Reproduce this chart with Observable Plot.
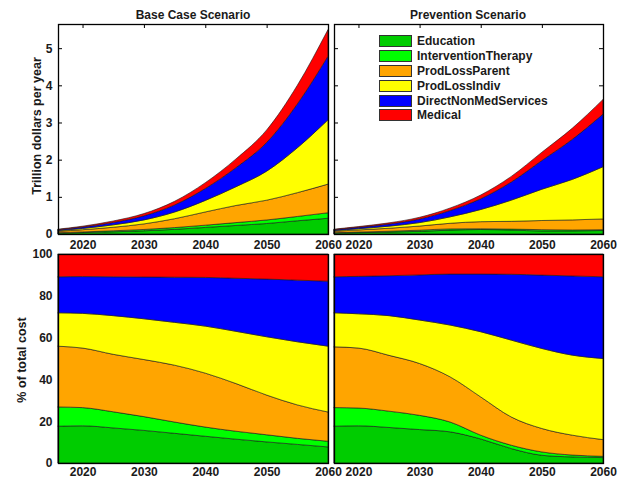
<!DOCTYPE html>
<html><head><meta charset="utf-8">
<script src="https://cdn.jsdelivr.net/npm/d3@7"></script>
<script src="https://cdn.jsdelivr.net/npm/@observablehq/plot@0.6"></script>
<style>
body{margin:0;background:#fff;}
#root{position:relative;width:626px;height:480px;font-family:"Liberation Sans",Arial,Helvetica,sans-serif;font-weight:bold;color:#1a1a1a;}
.pan{position:absolute;}
.pan svg{overflow:visible;}
.title{position:absolute;font-size:12px;transform:translate(-50%,-50%);white-space:nowrap;}
.ylab{position:absolute;font-size:12.5px;white-space:nowrap;transform:translate(-50%,-50%) rotate(-90deg);}
#legend{position:absolute;left:379px;top:34px;}
.row{display:flex;align-items:center;height:14.8px;}
.sw{width:31px;height:10px;border:1px solid #333;margin-right:5px;}
.row span{font-size:12px;}
</style></head><body><div id="root"></div>
<script>
// ---- data (trillion dollars per year) ----
const years = [2016, 2020, 2025, 2030, 2035, 2040, 2045, 2050, 2055, 2060];
const seriesNames = ["Education","InterventionTherapy","ProdLossParent","ProdLossIndiv","DirectNonMedServices","Medical"];
const seriesColors = ["#00cc00","#00ff00","#ffa500","#ffff00","#0000ff","#ff0000"];
const xTicks = [2020, 2030, 2040, 2050, 2060];
const yTicksTop = [0, 1, 2, 3, 4, 5];
const yTicksPct = [0, 20, 40, 60, 80, 100];
const panelTitles = ["Base Case Scenario", "Prevention Scenario"];
const yLabelTop = "Trillion dollars per year";
const yLabelBottom = "% of total cost";

const baseEducation   = [0.0229, 0.0374, 0.0588, 0.0858, 0.1250, 0.1766, 0.2303, 0.2828, 0.356, 0.4235];
const baseIntervention= [0.0120, 0.0183, 0.0270, 0.0363, 0.0475, 0.0607, 0.0768, 0.0952, 0.116, 0.1485];
const baseProdParent  = [0.0378, 0.0599, 0.0963, 0.1502, 0.2394, 0.3560, 0.4606, 0.5320, 0.640, 0.770];
const baseProdIndiv   = [0.0208, 0.0349, 0.0648, 0.1073, 0.1804, 0.3105, 0.5050, 0.7812, 1.208, 1.7325];
const baseDirectNonMed= [0.0224, 0.0370, 0.0651, 0.1100, 0.1901, 0.3215, 0.5131, 0.7728, 1.180, 1.7105];
const baseMedical     = [0.0142, 0.0227, 0.0382, 0.0605, 0.0977, 0.1546, 0.2343, 0.3360, 0.500, 0.715];

const prevEducation   = [0.0229, 0.0356, 0.0510, 0.0720, 0.1043, 0.1208, 0.1070, 0.0814, 0.0827, 0.0941];
const prevIntervention= [0.0116, 0.0170, 0.0234, 0.0306, 0.0329, 0.0189, 0.0248, 0.0352, 0.0257, 0.0217];
const prevProdParent  = [0.0378, 0.0574, 0.0801, 0.1116, 0.1512, 0.1922, 0.2093, 0.2464, 0.2708, 0.2896];
const prevProdIndiv   = [0.0212, 0.0328, 0.0570, 0.0936, 0.1736, 0.3276, 0.5704, 0.8426, 1.0916, 1.4046];
const prevDirectNonMed= [0.0224, 0.0358, 0.0573, 0.0972, 0.1708, 0.2898, 0.4883, 0.7722, 1.0802, 1.4154];
const prevMedical     = [0.0142, 0.0214, 0.0312, 0.0450, 0.0672, 0.1008, 0.1504, 0.2222, 0.2993, 0.3946];

function toRows(arrays) {
  const rows = [];
  arrays.forEach((arr, i) => arr.forEach((v, j) => rows.push({year: years[j], series: seriesNames[i], value: v})));
  return rows;
}
const baseData = toRows([baseEducation, baseIntervention, baseProdParent, baseProdIndiv, baseDirectNonMed, baseMedical]);
const prevData = toRows([prevEducation, prevIntervention, prevProdParent, prevProdIndiv, prevDirectNonMed, prevMedical]);

const root = document.getElementById("root");

function panel(data, o) {
  const fh = o.height - o.mT - o.mB, fw = o.width - o.mL - o.mR;
  const yTicks = o.normalize ? yTicksPct.map(d => d / 100) : yTicksTop;
  const marks = [
    Plot.tickX(xTicks, {x: d => d, insetBottom: fh - 4, stroke: "#000"}),
    Plot.tickX(xTicks, {x: d => d, insetTop: fh - 4, stroke: "#000"}),
    Plot.tickY(yTicks, {y: d => d, insetRight: fw - 4, stroke: "#000"}),
    Plot.tickY(yTicks, {y: d => d, insetLeft: fw - 4, stroke: "#000"}),
    Plot.areaY(data, Plot.stackY({
      x: "year", y: "value", z: "series", fill: "series", order: seriesNames,
      offset: o.normalize ? "normalize" : null, curve: "monotone-x",
      stroke: "#1a1a1a", strokeWidth: 0.6
    })),
    Plot.frame({stroke: "#000", strokeWidth: 1.3}),
    Plot.axisX(xTicks, {tickSize: 0, tickPadding: o.xPad, tickFormat: d => String(d), fill: "#1a1a1a"})
  ];
  if (o.showY) marks.push(Plot.axisY(yTicks, {tickSize: 0, tickPadding: 6, fill: "#1a1a1a",
    tickFormat: o.normalize ? d => String(Math.round(d * 100)) : d => String(d)}));
  const chart = Plot.plot({
    width: o.width, height: o.height,
    marginLeft: o.mL, marginRight: o.mR, marginTop: o.mT, marginBottom: o.mB,
    x: {domain: [2016, 2060], label: null},
    y: {domain: o.normalize ? [0, 1] : [0, 5.65], label: null, axis: o.showY ? undefined : null},
    color: {domain: seriesNames, range: seriesColors},
    style: {fontFamily: '"Liberation Sans", Arial, sans-serif', fontWeight: "bold", fontSize: "12px", background: "transparent", overflow: "visible"},
    marks
  });
  const div = document.createElement("div");
  div.className = "pan";
  div.style.left = o.left + "px";
  div.style.top = o.top + "px";
  div.appendChild(chart);
  root.appendChild(div);
}

panel(baseData, {left: 0, top: 0, width: 335, height: 256, mL: 58, mR: 7, mT: 24, mB: 22, normalize: false, showY: true, xPad: 6});
panel(prevData, {left: 300, top: 0, width: 326, height: 256, mL: 34, mR: 23, mT: 24, mB: 22, normalize: false, showY: false, xPad: 6});
panel(baseData, {left: 0, top: 230, width: 335, height: 250, mL: 58, mR: 7, mT: 24, mB: 17, normalize: true, showY: true, xPad: 4});
panel(prevData, {left: 300, top: 230, width: 326, height: 250, mL: 34, mR: 23, mT: 24, mB: 17, normalize: true, showY: false, xPad: 4});

function addText(cls, text, x, y) {
  const d = document.createElement("div");
  d.className = cls; d.textContent = text;
  d.style.left = x + "px"; d.style.top = y + "px";
  root.appendChild(d);
}
addText("title", panelTitles[0], 193, 15);
addText("title", panelTitles[1], 468, 15);
addText("ylab", yLabelTop, 37, 126);
addText("ylab", yLabelBottom, 22, 360);

const legend = document.createElement("div");
legend.id = "legend";
seriesNames.forEach((name, i) => {
  const row = document.createElement("div");
  row.className = "row";
  const sw = document.createElement("div");
  sw.className = "sw"; sw.style.background = seriesColors[i];
  const t = document.createElement("span"); t.textContent = name;
  row.appendChild(sw); row.appendChild(t);
  legend.appendChild(row);
});
root.appendChild(legend);
</script>
</body></html>
